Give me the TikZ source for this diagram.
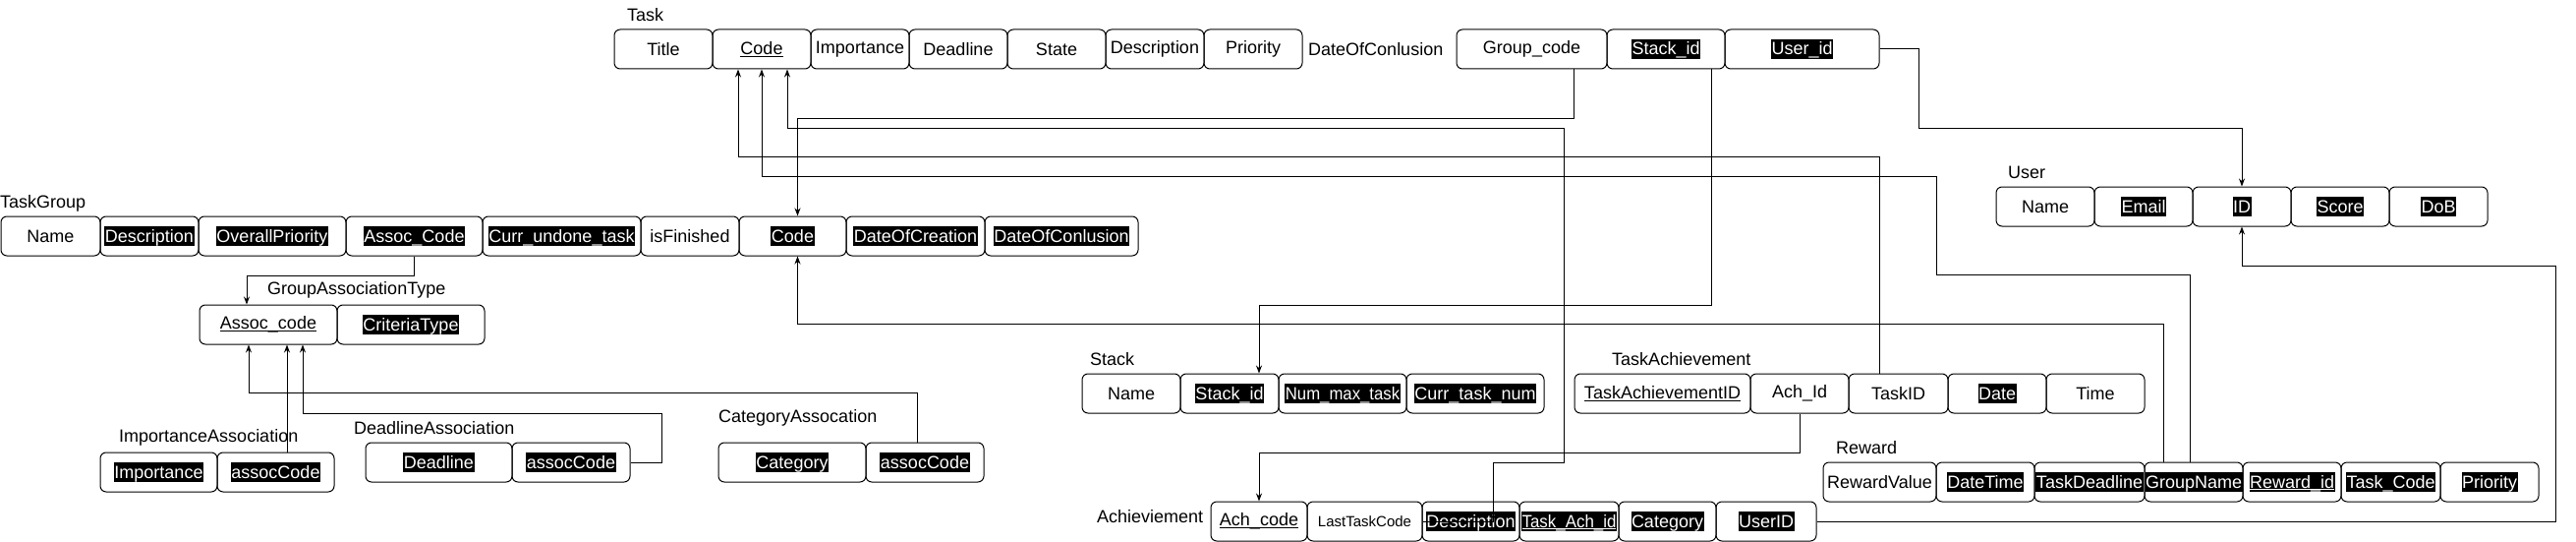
\documentclass[tikz,border=0pt]{standalone}
\usepackage{fontspec}
\setmainfont{Liberation Sans}
\usepackage{graphicx}
\usetikzlibrary{arrows.meta,calc}
\newcommand\fs{\fontsize{18}{22}\selectfont}
\newcommand\hlt[1]{{\setlength{\fboxsep}{0pt}\colorbox{black}{\color{white}\rule[-4pt]{0pt}{20pt}\hspace{0.5pt}#1\hspace{0.5pt}}}}
\newcommand\ult[1]{\setbox0\hbox{#1}\rlap{\rule[-2pt]{\wd0}{1pt}}\box0}
\newcommand\fbx[5]{\pgfmathsetmacro\bw{#3-#2}\pgfmathsetmacro\bx{(#2+#3)/2}\node[fld,minimum width=\bw pt] (#1) at (\bx,#4) {#5};}
\tikzset{
  fld/.style={draw, line width=1pt, rounded corners=6pt, inner sep=0pt, minimum height=40pt, font=\fs},
  lbl/.style={inner sep=0pt, font=\fs, anchor=west},
  conn/.style={line width=1pt, -{Stealth[length=8pt,width=6pt]}},
}
\begin{document}
\begin{tikzpicture}[x=1pt,y=-1pt]
\fill[white] (0,0) rectangle (2621,551);
\useasboundingbox (0,0) rectangle (2621,551);
% Task
\node[lbl] (taskL) at (638,15) {Task};
\fbx{tTitle}{625}{725}{50}{Title}
\fbx{tCode}{725}{825}{50}{\ult{Code}}
\fbx{tImp}{825}{925}{50}{Importance}
\fbx{tDead}{925}{1025}{50}{Deadline}
\fbx{tState}{1025}{1125}{50}{State}
\fbx{tDesc}{1125}{1225}{50}{Description}
\fbx{tPrio}{1225}{1325}{50}{Priority}
\node[lbl] (tConcl) at (1331,50) {DateOfConlusion};
\fbx{tGroup}{1482}{1635}{50}{Group\_code}
\fbx{tStack}{1635}{1755}{50}{\hlt{Stack\_id}}
\fbx{tUser}{1755}{1912}{50}{\hlt{User\_id}}
% TaskGroup
\node[lbl] (tgL) at (0,207) {TaskGroup};
\fbx{gName}{1}{102}{240}{Name}
\fbx{gDesc}{102}{202}{240}{\hlt{Description}}
\fbx{gOver}{202}{352}{240}{\hlt{OverallPriority}}
\fbx{gAssoc}{352}{491}{240}{\hlt{Assoc\_Code}}
\fbx{gCurr}{491}{652}{240}{\hlt{Curr\_undone\_task}}
\fbx{gFin}{652}{752}{240}{isFinished}
\fbx{gCode}{752}{861}{240}{\hlt{Code}}
\fbx{gCreate}{861}{1002}{240}{\hlt{DateOfCreation}}
\fbx{gConcl}{1002}{1158}{240}{\hlt{DateOfConlusion}}
% GroupAssociationType
\node[lbl] (gatL) at (272,295) {GroupAssociationType};
\fbx{aCode}{203}{343}{330}{\ult{Assoc\_code}}
\fbx{aCrit}{343}{493}{330}{\hlt{CriteriaType}}
% ImportanceAssociation
\node[lbl] (iaL) at (121,445) {ImportanceAssociation};
\fbx{iImp}{102}{221}{480}{\hlt{Importance}}
\fbx{iAssoc}{221}{340}{480}{\hlt{assocCode}}
% DeadlineAssociation
\node[lbl] (daL) at (360,435) {DeadlineAssociation};
\fbx{dDead}{372}{521}{470}{\hlt{Deadline}}
\fbx{dAssoc}{521}{641}{470}{\hlt{assocCode}}
% CategoryAssocation
\node[lbl] (caL) at (731,425) {CategoryAssocation};
\fbx{cCat}{731}{881}{470}{\hlt{Category}}
\fbx{cAssoc}{881}{1001}{470}{\hlt{assocCode}}
% Stack
\node[lbl] (stL) at (1109,365) {Stack};
\fbx{sName}{1101}{1201}{400}{Name}
\fbx{sId}{1201}{1301}{400}{\hlt{Stack\_id}}
\fbx{sNum}{1301}{1431}{400}{\hlt{\scalebox{0.93}[1]{Num\_max\_task}}}
\fbx{sCurr}{1431}{1571}{400}{\hlt{Curr\_task\_num}}
% TaskAchievement
\node[lbl] (taL) at (1640,365) {TaskAchievement};
\fbx{taId}{1602}{1781}{400}{\ult{TaskAchievementID}}
\fbx{taAch}{1781}{1881}{400}{Ach\_Id}
\fbx{taTask}{1881}{1982}{400}{TaskID}
\fbx{taDate}{1982}{2082}{400}{\hlt{Date}}
\fbx{taTime}{2082}{2182}{400}{Time}
% Reward
\node[lbl] (rwL) at (1868,455) {Reward};
\fbx{rVal}{1855}{1970}{490}{RewardValue}
\fbx{rDT}{1970}{2070}{490}{\hlt{DateTime}}
\fbx{rTD}{2070}{2182}{490}{\hlt{TaskDeadline}}
\fbx{rGN}{2182}{2282}{490}{\hlt{GroupName}}
\fbx{rId}{2282}{2382}{490}{\hlt{\ult{Reward\_id}}}
\fbx{rTC}{2382}{2483}{490}{\hlt{Task\_Code}}
\fbx{rPr}{2483}{2583}{490}{\hlt{Priority}}
% Achievement
\node[lbl] (acL) at (1116,525) {Achieviement};
\fbx{acCode}{1232}{1330}{530}{\ult{Ach\_code}}
\fbx{acLast}{1330}{1447}{530}{\fontsize{15}{18}\selectfont LastTaskCode}
\fbx{acDesc}{1447}{1546}{530}{\hlt{Description}}
\fbx{acTA}{1546}{1647}{530}{\hlt{\scalebox{0.94}[1]{\ult{Task\_Ach\_id}}}}
\fbx{acCat}{1647}{1746}{530}{\hlt{Category}}
\fbx{acUser}{1746}{1848}{530}{\hlt{UserID}}
% User
\node[lbl] (usL) at (2043,175) {User};
\fbx{uName}{2031}{2131}{210}{Name}
\fbx{uEmail}{2131}{2231}{210}{\hlt{Email}}
\fbx{uID}{2231}{2331}{210}{\hlt{ID}}
\fbx{uScore}{2331}{2431}{210}{\hlt{Score}}
\fbx{uDoB}{2431}{2531}{210}{\hlt{DoB}}
% Connectors
\draw[conn] ([xshift=43pt]tGroup.south) -- ++(0,50) -| ([xshift=5pt]gCode.north);
\draw[conn] ([xshift=46pt]tStack.south) -- ++(0,240) -| ([xshift=30pt]sId.north);
\draw[conn] (tUser.east) -- ++(40,0) -- ++(0,80) -| (uID.north);
\draw[conn] ([xshift=-19.5pt]taTask.north) -- ++(0,-220) -| ([xshift=-24pt]tCode.south);
\draw[conn] ([xshift=-4pt]rGN.north) -- ++(0,-190) -- ++(-258,0) -- ++(0,-100) -| (tCode.south);
\draw[conn] ([xshift=-31pt]rGN.north) -- ++(0,-140) -| ([xshift=5pt]gCode.south);
\draw[conn] (acLast.east) -- ++(72,0) -- ++(0,-60) -- ++(72,0) -- ++(0,-340) -| ([xshift=26pt]tCode.south);
\draw[conn] (taAch.south) -- ++(0,40) -| (acCode.north);
\draw[conn] (acUser.east) -- ++(752,0) -- ++(0,-260) -| (uID.south);
\draw[conn] (gAssoc.south) -- ++(0,20) -| ([xshift=-22pt]aCode.north);
\draw[conn] ([xshift=-8pt]cAssoc.north) -- ++(0,-50) -| ([xshift=-20pt]aCode.south);
\draw[conn] (dAssoc.east) -- ++(32,0) -- ++(0,-50) -| ([xshift=35pt]aCode.south);
\draw[conn] ([xshift=11.5pt]iAssoc.north) -- ([xshift=19pt]aCode.south);
\end{tikzpicture}
\end{document}
